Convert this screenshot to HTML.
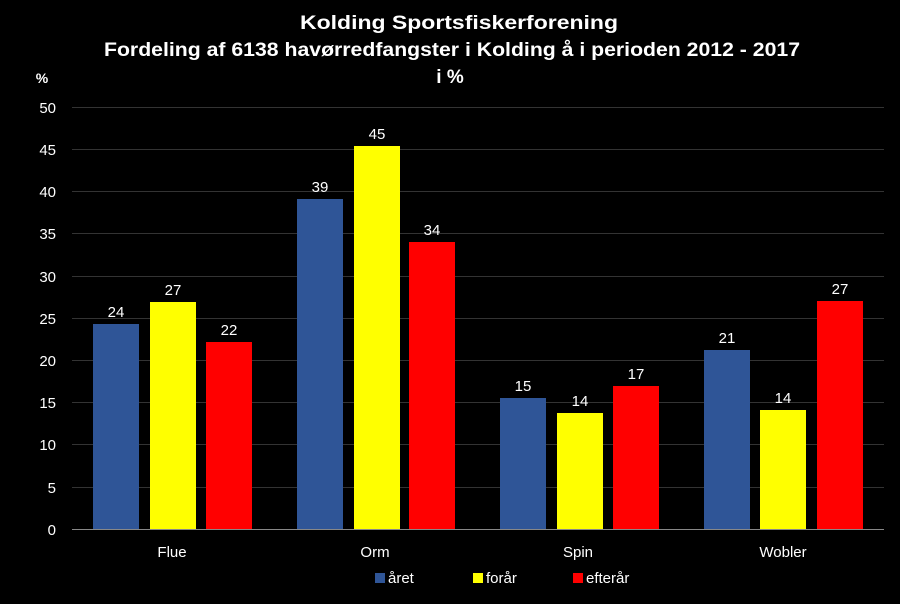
<!DOCTYPE html>
<html><head><meta charset="utf-8"><style>body{margin:0;background:#000}svg{display:block}</style></head><body>
<svg width="900" height="604" viewBox="0 0 900 604" xmlns="http://www.w3.org/2000/svg" font-family="Liberation Sans, sans-serif">
<rect width="900" height="604" fill="#000"/>
<g fill="#fff" font-weight="bold" font-size="19" text-anchor="middle">
<text x="459" y="29" textLength="318" lengthAdjust="spacingAndGlyphs">Kolding Sportsfiskerforening</text>
<text x="452" y="56" textLength="696" lengthAdjust="spacingAndGlyphs">Fordeling af 6138 havørredfangster i Kolding å  i perioden 2012 - 2017</text>
<text x="450" y="83">i %</text>
</g>
<text x="42" y="83" fill="#fff" font-weight="bold" font-size="14" text-anchor="middle">%</text>
<g stroke="#333" stroke-width="1">
<line x1="72" x2="884" y1="107.5" y2="107.5"/><line x1="72" x2="884" y1="149.5" y2="149.5"/>
<line x1="72" x2="884" y1="191.5" y2="191.5"/><line x1="72" x2="884" y1="233.5" y2="233.5"/>
<line x1="72" x2="884" y1="276.5" y2="276.5"/><line x1="72" x2="884" y1="318.5" y2="318.5"/>
<line x1="72" x2="884" y1="360.5" y2="360.5"/><line x1="72" x2="884" y1="402.5" y2="402.5"/>
<line x1="72" x2="884" y1="444.5" y2="444.5"/><line x1="72" x2="884" y1="487.5" y2="487.5"/>
</g>
<g fill="#fff" font-size="15" text-anchor="end">
<text x="56" y="113">50</text><text x="56" y="155">45</text><text x="56" y="197">40</text>
<text x="56" y="239">35</text><text x="56" y="282">30</text><text x="56" y="324">25</text>
<text x="56" y="366">20</text><text x="56" y="408">15</text><text x="56" y="450">10</text>
<text x="56" y="493">5</text><text x="56" y="535">0</text>
</g>
<g fill="#2f5597">
<rect x="93" y="324" width="46" height="205"/><rect x="297" y="199" width="46" height="330"/>
<rect x="500" y="398" width="46" height="131"/><rect x="704" y="350" width="46" height="179"/>
</g>
<g fill="#ffff00">
<rect x="150" y="302" width="46" height="227"/><rect x="354" y="146" width="46" height="383"/>
<rect x="557" y="413" width="46" height="116"/><rect x="760" y="410" width="46" height="119"/>
</g>
<g fill="#ff0000">
<rect x="206" y="342" width="46" height="187"/><rect x="409" y="242" width="46" height="287"/>
<rect x="613" y="386" width="46" height="143"/><rect x="817" y="301" width="46" height="228"/>
</g>
<line x1="72" x2="884" y1="529.5" y2="529.5" stroke="#888" stroke-width="1"/>
<g fill="#fff" font-size="15" text-anchor="middle">
<text x="116" y="317">24</text><text x="173" y="295">27</text><text x="229" y="335">22</text>
<text x="320" y="192">39</text><text x="377" y="139">45</text><text x="432" y="235">34</text>
<text x="523" y="391">15</text><text x="580" y="406">14</text><text x="636" y="379">17</text>
<text x="727" y="343">21</text><text x="783" y="403">14</text><text x="840" y="294">27</text>
<text x="172" y="557">Flue</text><text x="375" y="557">Orm</text>
<text x="578" y="557">Spin</text><text x="783" y="557">Wobler</text>
</g>
<rect x="375" y="573" width="10" height="10" fill="#2f5597"/>
<rect x="473" y="573" width="10" height="10" fill="#ffff00"/>
<rect x="573" y="573" width="10" height="10" fill="#ff0000"/>
<g fill="#fff" font-size="15">
<text x="388" y="583">året</text><text x="486" y="583">forår</text><text x="586" y="583">efterår</text>
</g>
</svg>
</body></html>
